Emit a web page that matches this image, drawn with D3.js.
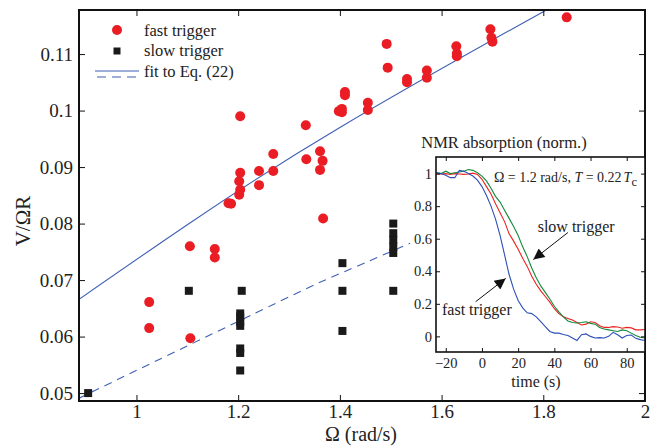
<!DOCTYPE html>
<html>
<head>
<meta charset="utf-8">
<script src="https://cdn.jsdelivr.net/npm/d3@7"></script>
<style>
  body { margin: 0; background: #fff; }
  svg text { font-family: "Liberation Serif", "DejaVu Serif", "Times New Roman", serif; fill: #222; }
</style>
</head>
<body>
<div id="graphic"></div>
<script>
// fast trigger points (Omega, V/OmegaR)
var fastOmega = [1.025, 1.025, 1.105, 1.106, 1.154, 1.154, 1.181, 1.186, 1.204, 1.204, 1.202, 1.204, 1.202,
  1.241, 1.241, 1.269, 1.269, 1.333, 1.334, 1.361, 1.361, 1.366, 1.367, 1.398, 1.404, 1.404, 1.410, 1.410,
  1.455, 1.455, 1.492, 1.494, 1.532, 1.532, 1.571, 1.571, 1.629, 1.630, 1.630, 1.696, 1.698, 1.700, 1.846];
var fastV = [0.0661, 0.0615, 0.0760, 0.0597, 0.0755, 0.0740, 0.0836, 0.0835, 0.0990, 0.0890, 0.0875, 0.0860, 0.0851,
  0.0893, 0.0868, 0.0923, 0.0893, 0.0974, 0.0914, 0.0928, 0.0895, 0.0911, 0.0809, 0.0999, 0.1003, 0.0997, 0.1033, 0.1027,
  0.1014, 0.1001, 0.1118, 0.1076, 0.1056, 0.1050, 0.1071, 0.1058, 0.1114, 0.1101, 0.1096, 0.1144, 0.1129, 0.1122, 0.1165];

// slow trigger points
var slowOmega = [0.905, 1.103, 1.207, 1.204, 1.204, 1.204, 1.204, 1.204, 1.204, 1.204,
  1.405, 1.405, 1.405, 1.505, 1.505, 1.505, 1.505, 1.505, 1.505];
var slowV = [0.0500, 0.0681, 0.0681, 0.0641, 0.0635, 0.0626, 0.0619, 0.0579, 0.0571, 0.0540,
  0.0730, 0.0681, 0.0610, 0.0800, 0.0783, 0.0771, 0.0759, 0.0748, 0.0681];

// fits to Eq. (22)
var fitFastOmega = [0.887, 1.1, 1.4, 1.8, 1.9];
var fitFastV = [0.0666, 0.0798, 0.0970, 0.1175, 0.1224];
var fitSlowOmega = [0.887, 1.267, 1.381, 1.538];
var fitSlowV = [0.0491, 0.0656, 0.0704, 0.0765];

var xTicks = [1, 1.2, 1.4, 1.6, 1.8, 2];
var yTicks = [0.05, 0.06, 0.07, 0.08, 0.09, 0.1, 0.11];

// inset: NMR absorption traces
var traceTime = [-25, -22.5, -20, -17.5, -15, -12.5, -10, -7.5, -5, -2.5, 0, 2.5, 5, 7.5, 10, 12.5, 15, 17.5,
  20, 22.5, 25, 27.5, 30, 32.5, 35, 37.5, 40, 42.5, 45, 47.5, 50, 52.5, 55, 57.5, 60, 62.5, 65, 67.5, 70,
  72.5, 75, 77.5, 80, 82.5, 85, 87.5, 90];
var fastTrace = [1.005, 1.0, 0.99, 0.975, 0.975, 1.02, 1.015, 1.0, 0.985, 0.96, 0.92, 0.865, 0.80, 0.72, 0.62, 0.50,
  0.38, 0.29, 0.22, 0.175, 0.145, 0.14, 0.12, 0.09, 0.06, 0.03, 0.02, 0.02, 0.012, 0.005, -0.01, -0.025, 0.01,
  0.015, 0.0, -0.01, -0.008, -0.01, 0.0, 0.025, 0.01, -0.01, 0.005, 0.008, -0.012, -0.02, -0.025];
var midTrace = [1.0, 0.998, 1.0, 0.995, 1.0, 0.998, 0.995, 0.998, 1.003, 0.995, 0.965, 0.92, 0.875, 0.815, 0.76, 0.705,
  0.63, 0.585, 0.535, 0.48, 0.43, 0.37, 0.32, 0.28, 0.245, 0.21, 0.17, 0.14, 0.12, 0.11, 0.10, 0.085, 0.07,
  0.075, 0.09, 0.085, 0.065, 0.055, 0.055, 0.06, 0.058, 0.05, 0.055, 0.052, 0.04, 0.04, 0.042];
var slowTrace = [1.005, 1.0, 1.015, 1.0, 1.005, 1.01, 1.015, 1.025, 1.02, 1.005, 0.985, 0.955, 0.91, 0.86, 0.825, 0.775,
  0.725, 0.675, 0.62, 0.55, 0.49, 0.42, 0.36, 0.31, 0.27, 0.23, 0.185, 0.15, 0.12, 0.095, 0.085, 0.082, 0.085,
  0.09, 0.08, 0.075, 0.055, 0.045, 0.04, 0.035, 0.03, 0.04, 0.035, 0.02, 0.005, -0.005, -0.01];
var insetXTicks = [-20, 0, 20, 40, 60, 80];
var insetYTicks = [0, 0.2, 0.4, 0.6, 0.8, 1];

var margin = {top: 10, right: 14, bottom: 47, left: 79},
    width = 659 - margin.left - margin.right,
    height = 448 - margin.top - margin.bottom;

var x = d3.scaleLinear().domain([0.887, 2.0]).range([0, width]);
var y = d3.scaleLinear().domain([0.0486, 0.1178]).range([height, 0]);

var svg = d3.select("#graphic").append("svg")
    .attr("width", 659)
    .attr("height", 448);

svg.append("defs").append("clipPath").attr("id", "clipMain")
  .append("rect").attr("width", width).attr("height", height);

var g = svg.append("g")
    .attr("transform", "translate(" + margin.left + "," + margin.top + ")");

// fit lines
var fitLine = d3.line().curve(d3.curveNatural);
g.append("path")
    .attr("clip-path", "url(#clipMain)")
    .attr("d", fitLine(fitFastOmega.map(function (d, i) { return [x(d), y(fitFastV[i])]; })))
    .attr("fill", "none").attr("stroke", "#3f5fb4").attr("stroke-width", 1.1);
g.append("path")
    .attr("clip-path", "url(#clipMain)")
    .attr("d", fitLine(fitSlowOmega.map(function (d, i) { return [x(d), y(fitSlowV[i])]; })))
    .attr("fill", "none").attr("stroke", "#3f5fb4").attr("stroke-width", 1.1)
    .attr("stroke-dasharray", "8,6");

// points
g.selectAll("circle.fast")
    .data(fastOmega)
  .enter().append("circle")
    .attr("class", "fast")
    .attr("cx", function (d) { return x(d); })
    .attr("cy", function (d, i) { return y(fastV[i]); })
    .attr("r", 5)
    .style("fill", "#ea1d25");
g.selectAll("rect.slow")
    .data(slowOmega)
  .enter().append("rect")
    .attr("class", "slow")
    .attr("x", function (d) { return x(d) - 4; })
    .attr("y", function (d, i) { return y(slowV[i]) - 4; })
    .attr("width", 8).attr("height", 8)
    .style("fill", "#1a1a1a");

// axes, ticks inward on all four sides
var fmt = function (d) { return String(d); };
g.append("g").attr("class", "axis")
    .attr("transform", "translate(0," + height + ")")
    .call(d3.axisBottom(x).tickValues(xTicks).tickFormat(fmt).tickSizeInner(-6).tickSizeOuter(0).tickPadding(4));
g.append("g").attr("class", "axis")
    .call(d3.axisTop(x).tickValues(xTicks).tickFormat("").tickSizeInner(-6).tickSizeOuter(0));
g.append("g").attr("class", "axis")
    .call(d3.axisLeft(y).tickValues(yTicks).tickFormat(fmt).tickSizeInner(-6).tickSizeOuter(0).tickPadding(6));
g.append("g").attr("class", "axis")
    .attr("transform", "translate(" + width + ",0)")
    .call(d3.axisRight(y).tickValues(yTicks).tickFormat("").tickSizeInner(-6).tickSizeOuter(0));
g.selectAll(".axis .domain").remove();
g.selectAll(".axis text").style("font-size", "19px").attr("fill", "#222");
g.selectAll(".axis line").attr("stroke", "#111").attr("stroke-width", 1);

g.append("rect")
    .attr("width", width).attr("height", height)
    .attr("fill", "none").attr("stroke", "#111").attr("stroke-width", 2);

// axis titles
svg.append("text")
    .attr("x", 361).attr("y", 441)
    .attr("text-anchor", "middle")
    .style("font-size", "20px")
    .text("Ω  (rad/s)");
svg.append("text")
    .attr("transform", "translate(30,221) rotate(-90)")
    .attr("text-anchor", "middle")
    .style("font-size", "21px")
    .text("V/ΩR");

// legend
var legend = svg.append("g");
legend.append("circle").attr("cx", 117).attr("cy", 30).attr("r", 5).style("fill", "#ea1d25");
legend.append("rect").attr("x", 113.5).attr("y", 47.5).attr("width", 7).attr("height", 7).style("fill", "#1a1a1a");
legend.append("line").attr("x1", 95).attr("x2", 139).attr("y1", 71).attr("y2", 71)
    .attr("stroke", "#3f5fb4").attr("stroke-width", 1.1);
legend.append("line").attr("x1", 97).attr("x2", 139).attr("y1", 77).attr("y2", 77)
    .attr("stroke", "#3f5fb4").attr("stroke-width", 1.1).attr("stroke-dasharray", "9,6");
[["fast trigger", 36], ["slow trigger", 56], ["fit to Eq. (22)", 77]].forEach(function (l) {
  legend.append("text").attr("x", 144).attr("y", l[1]).style("font-size", "16.5px").text(l[0]);
});

// ---- inset ----
var inset = {left: 436, top: 157, width: 209, height: 195};
var ix = d3.scaleLinear().domain([-25.4, 90.1]).range([0, inset.width]);
var iy = d3.scaleLinear().domain([-0.096, 1.102]).range([inset.height, 0]);

svg.select("defs").append("clipPath").attr("id", "clipInset")
  .append("rect").attr("width", inset.width).attr("height", inset.height);

var ig = svg.append("g")
    .attr("transform", "translate(" + inset.left + "," + inset.top + ")");
ig.append("rect").attr("width", inset.width).attr("height", inset.height).attr("fill", "#fff");

var traceLine = d3.line()
    .x(function (d, i) { return ix(traceTime[i]); })
    .y(function (d) { return iy(d); });
[[midTrace, "#ee2020"], [slowTrace, "#14893a"], [fastTrace, "#2d4fb8"]].forEach(function (t) {
  ig.append("path")
      .attr("clip-path", "url(#clipInset)")
      .attr("d", traceLine(t[0]))
      .attr("fill", "none").attr("stroke", t[1]).attr("stroke-width", 1.1);
});

var insetFmt = function (d) { return d < 0 ? "\u2212" + Math.abs(d) : String(d); };
ig.append("g").attr("class", "iaxis")
    .attr("transform", "translate(0," + inset.height + ")")
    .call(d3.axisBottom(ix).tickValues(insetXTicks).tickFormat(insetFmt).tickSizeInner(-4).tickSizeOuter(0).tickPadding(6));
ig.append("g").attr("class", "iaxis")
    .call(d3.axisTop(ix).tickValues(insetXTicks).tickFormat("").tickSizeInner(-4).tickSizeOuter(0));
ig.append("g").attr("class", "iaxis")
    .call(d3.axisLeft(iy).tickValues(insetYTicks).tickFormat(insetFmt).tickSizeInner(-4).tickSizeOuter(0).tickPadding(4));
ig.append("g").attr("class", "iaxis")
    .attr("transform", "translate(" + inset.width + ",0)")
    .call(d3.axisRight(iy).tickValues(insetYTicks).tickFormat("").tickSizeInner(-4).tickSizeOuter(0));
ig.selectAll(".iaxis .domain").remove();
ig.selectAll(".iaxis text").style("font-size", "14.5px").attr("fill", "#222");
ig.selectAll(".iaxis line").attr("stroke", "#111");
ig.append("rect").attr("width", inset.width).attr("height", inset.height)
    .attr("fill", "none").attr("stroke", "#111").attr("stroke-width", 1.6);

// inset titles
svg.append("text").attr("x", 504).attr("y", 148).attr("text-anchor", "middle")
    .style("font-size", "16.5px").text("NMR absorption (norm.)");
svg.append("text").attr("x", 536).attr("y", 387).attr("text-anchor", "middle")
    .style("font-size", "16px").text("time  (s)");

var note = ig.append("text").attr("x", ix(6.6)).attr("y", iy(0.95)).style("font-size", "14px");
note.append("tspan").text("Ω = 1.2 rad/s,  ");
note.append("tspan").style("font-style", "italic").text("T");
note.append("tspan").text(" = 0.22");
note.append("tspan").style("font-style", "italic").attr("dx", 2).text("T");
note.append("tspan").attr("dy", 4).style("font-size", "12.5px").text("c");

// arrow annotations, positioned in inset data units
svg.select("defs").append("marker")
    .attr("id", "arrowHead")
    .attr("viewBox", "0 0 10 10")
    .attr("refX", 10).attr("refY", 5)
    .attr("markerWidth", 14).attr("markerHeight", 11)
    .attr("markerUnits", "userSpaceOnUse")
    .attr("orient", "auto")
  .append("path").attr("d", "M0,0L10,5L0,10Z").attr("fill", "#111");

[[47.5, 0.638, 28.4, 0.472], [-3.5, 0.213, 13.1, 0.356]].forEach(function (a) {
  ig.append("line")
      .attr("x1", ix(a[0])).attr("y1", iy(a[1]))
      .attr("x2", ix(a[2])).attr("y2", iy(a[3]))
      .attr("stroke", "#111").attr("stroke-width", 1)
      .attr("marker-end", "url(#arrowHead)");
});
ig.append("text").attr("x", ix(30.8)).attr("y", iy(0.644)).style("font-size", "16px").text("slow trigger");
ig.append("text").attr("x", ix(-22.1)).attr("y", iy(0.129)).style("font-size", "16px").text("fast trigger");
</script>
</body>
</html>
